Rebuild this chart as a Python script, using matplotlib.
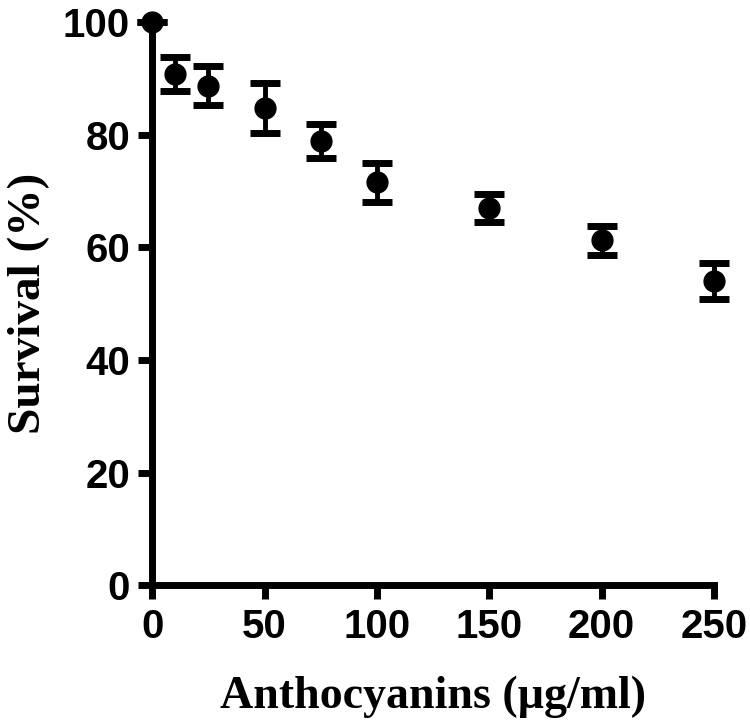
import matplotlib
matplotlib.use("Agg")
import matplotlib.pyplot as plt

conc = [0, 10, 25, 50, 75, 100, 150, 200, 250]
survival = [100, 90.8, 88.7, 84.7, 78.8, 71.5, 67.0, 61.2, 54.0]
error = [0.0, 3.0, 3.5, 4.5, 3.0, 3.5, 2.5, 2.6, 3.2]
xticks = [0, 50, 100, 150, 200, 250]
yticks = [0, 20, 40, 60, 80, 100]

fig = plt.figure(figsize=(7.5, 7.28), dpi=100)
ax = fig.add_axes([0.203, 0.196, 0.749, 0.774])

eb = ax.errorbar(conc, survival, yerr=error, fmt='o', color='black',
                 markersize=15, elinewidth=3.5, capsize=11, capthick=5,
                 clip_on=False, zorder=5)
for artist in eb.lines[1] + eb.lines[2]:
    artist.set_clip_on(False)
eb.lines[0].set_clip_on(False)

ax.set_xlim(0, 250)
ax.set_ylim(0, 100)
ax.set_xticks(xticks)
ax.set_yticks(yticks)

for s in ['top', 'right']:
    ax.spines[s].set_visible(False)
for s in ['left', 'bottom']:
    ax.spines[s].set_linewidth(5)

ax.tick_params(axis='both', direction='out', length=10, width=5,
               labelsize=29, pad=6)
for lab in ax.get_xticklabels() + ax.get_yticklabels():
    lab.set_fontfamily('Liberation Sans')
    lab.set_fontweight('bold')

ax.set_xlabel('Anthocyanins (µg/ml)', fontfamily='Liberation Serif',
              fontweight='bold', fontsize=33, labelpad=22)
ax.set_ylabel('Survival (%)', fontfamily='Liberation Serif',
              fontweight='bold', fontsize=34, labelpad=9)

fig.savefig('out.png', dpi=100)
